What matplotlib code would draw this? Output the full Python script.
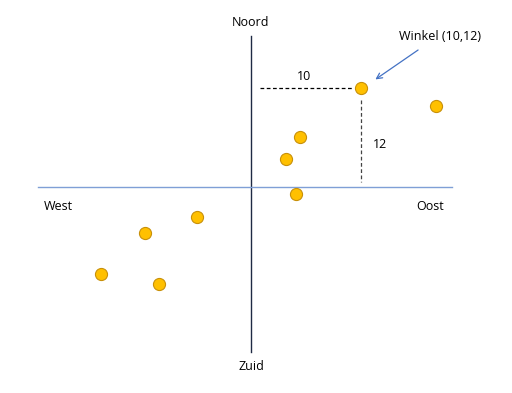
import matplotlib.pyplot as plt

# winkel locaties (x = oost/west, y = noord/zuid)
x = [10, 16.8, 4.5, 3.2, 4.1, -4.9, -9.6, -13.6, -8.4]
y = [12, 9.8, 6.1, 3.4, -0.85, -3.6, -5.6, -10.5, -11.8]

plt.rcParams['font.family'] = ['Open Sans', 'DejaVu Sans']

fig = plt.figure(figsize=(5.12, 3.93), dpi=100)
ax = fig.add_axes([0, 0, 1, 1])
ax.set_xlim(-22.82, 23.73)
ax.set_ylim(-24.97, 22.67)
ax.axis('off')

# assen
ax.plot([0, 0], [18.3, -20], color='#1F2A44', lw=1)
ax.plot([-19.4, 18.3], [0, 0], color='#7F9FD6', lw=1)

# hulplijnen naar de winkel
ax.plot([0.8, 9.2], [12, 12], color='black', lw=0.9, ls=(0, (3, 2)))
ax.plot([10, 10], [10.5, 0.6], color='#444444', lw=0.9, ls=(0, (3, 2)))

ax.scatter(x, y, s=76, color='#FFC000', edgecolor='#C8900A', linewidth=0.8, zorder=3)

fs = 9
ax.text(0, 20, 'Noord', ha='center', va='center', fontsize=fs)
ax.text(0, -21.8, 'Zuid', ha='center', va='center', fontsize=fs)
ax.text(-17.5, -2.4, 'West', ha='center', va='center', fontsize=fs)
ax.text(16.3, -2.4, 'Oost', ha='center', va='center', fontsize=fs)
ax.text(4.8, 13.45, '10', ha='center', va='center', fontsize=fs)
ax.text(11.7, 5.2, '12', ha='center', va='center', fontsize=fs)
ax.text(17.2, 18.3, 'Winkel (10,12)', ha='center', va='center', fontsize=fs)

ax.annotate('', xy=(11.1, 12.85), xytext=(15.4, 16.8),
            arrowprops=dict(arrowstyle='->', color='#4472C4', lw=0.9))

plt.savefig('out.png', dpi=100)
